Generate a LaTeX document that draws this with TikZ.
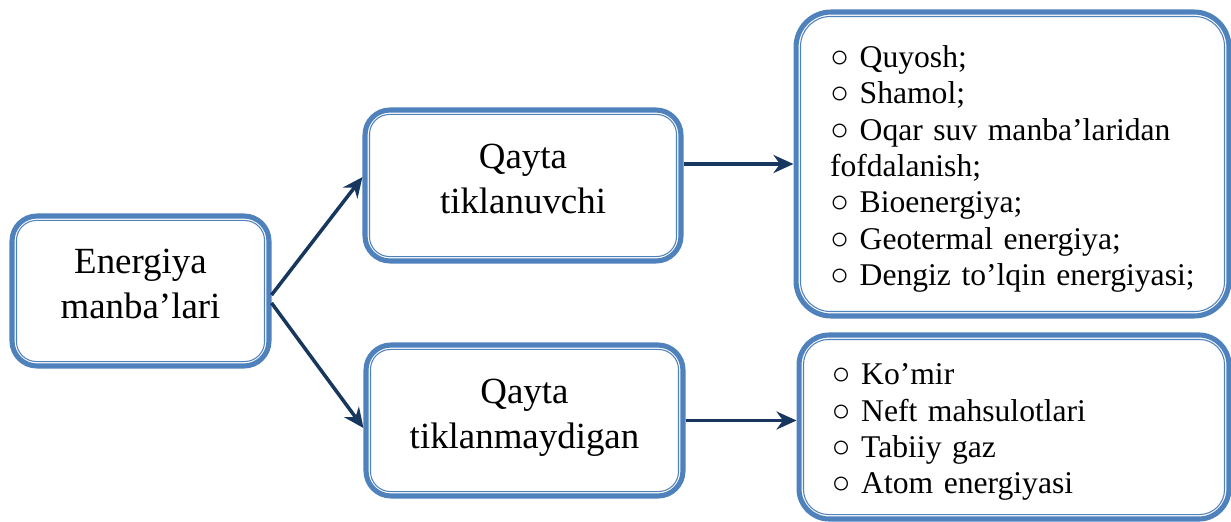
\documentclass[tikz,border=0pt]{standalone}
\usepackage{fontspec}
\setmainfont{Liberation Serif}
\usetikzlibrary{arrows.meta, positioning, calc}
\definecolor{boxBlue}{HTML}{4F81BD}
\definecolor{arrowNavy}{HTML}{17375E}
\newcommand{\lowstrut}{\rule[-8pt]{0pt}{0pt}}
\newcommand{\highstrut}{\rule{0pt}{18pt}}

\begin{document}
\begin{tikzpicture}[x=0.02cm, y=-0.02cm,
  box/.style={draw=boxBlue, fill=white, line width=2.9pt, rounded corners=0.5cm,
              align=center, inner sep=0pt,
              font=\fontsize{21}{25.5}\selectfont},
  listbox/.style={box, align=left, text width=7.3cm,
              font=\fontsize{18}{20.7}\selectfont},
  innerline/.style={draw=boxBlue, line width=0.6pt, rounded corners=#1},
  link/.style={-{Stealth[length=4mm, width=3.6mm]}, draw=arrowNavy, line width=2pt},
]
\useasboundingbox (0,0) rectangle (1231,521);

% --- source ---
\node[box, minimum width=5.14cm, minimum height=3cm] (src) at (140.5,291) {Energiya\\manba’lari\lowstrut};

% --- two kinds ---
\node[box, minimum width=6.32cm, minimum height=3.02cm] (ren)  at (523,185.5) {Qayta\\tiklanuvchi\lowstrut};
\node[box, minimum width=6.34cm, minimum height=3.02cm] (nren) at (524.5,420.5) {Qayta\\tiklanmaydigan\lowstrut};

% --- lists ---
\node[listbox, rounded corners=0.7cm, minimum width=8.66cm, minimum height=6.08cm] (renlist) at (1012.5,164)
  {\highstrut○ Quyosh;\\
   ○ Shamol;\\
   ○ Oqar suv manba’laridan\\
   fofdalanish;\\
   ○ Bioenergiya;\\
   ○ Geotermal energiya;\\
   ○ Dengiz to’lqin energiyasi;};
\node[listbox, rounded corners=0.6cm, minimum width=8.6cm, minimum height=3.68cm] (nrenlist) at (1014,427)
  {\highstrut○ Ko’mir\\
   ○ Neft mahsulotlari\\
   ○ Tabiiy gaz\\
   ○ Atom energiyasi};

% --- thin inner line of each frame ---
\foreach \n/\r in {src/0.4, ren/0.4, nren/0.4, renlist/0.6, nrenlist/0.5}
  \draw[innerline=\r cm] ($(\n.south west)+(0.14cm,0.14cm)$) rectangle ($(\n.north east)-(0.14cm,0.14cm)$);

% --- arrows ---
\draw[link] ([yshift=-2.3pt]src.east) -- ([yshift=4.8pt]ren.west);
\draw[link] ([yshift=-6.8pt]src.east) -- ([yshift=-4.3pt]nren.west);
\draw[link] (ren.east |- renlist.west) -- (renlist.west);
\draw[link] (nren.east) -- (nren.east -| nrenlist.west);
\end{tikzpicture}
\end{document}
